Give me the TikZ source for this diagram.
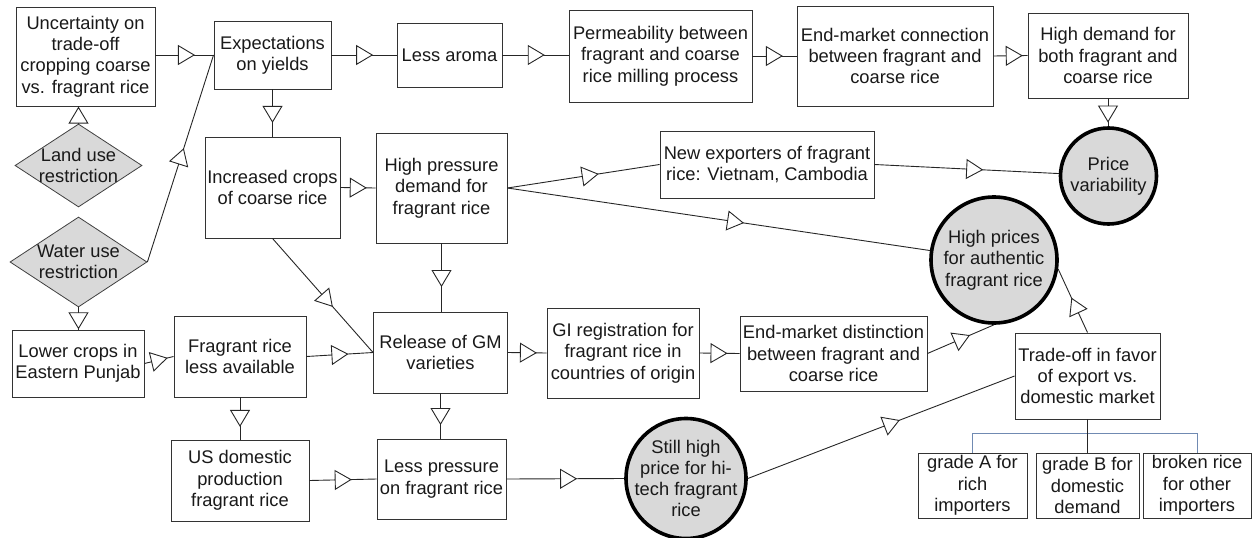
\documentclass[tikz,border=0pt]{standalone}
\usepackage{fontspec}
\setmainfont{Liberation Sans}
\usetikzlibrary{shapes.geometric,arrows.meta,decorations.markings}
\definecolor{treeblue}{RGB}{112,138,178}
\tikzset{
  txt/.style={align=center, inner sep=0pt, font=\fontsize{18.3}{21.3}\selectfont, text=black!90},
  box/.style={txt, rectangle, draw=black!80, line width=0.9pt, fill=white},
  bigcirc/.style={circle, draw=black, line width=3.6pt, fill=black!15, inner sep=0pt},
  diam/.style={diamond, draw=black!75, line width=0.8pt, fill=black!15, inner sep=0pt},
  link/.style={draw=black!85, line width=0.9pt},
  tri/.style={link, postaction={decorate, decoration={markings, mark=at position #1 with {\arrow{Triangle[open, fill=white, length=17pt, width=20pt, line width=0.9pt]}}}}},
  treeline/.style={draw=treeblue, line width=1pt}
}
\begin{document}
\begin{tikzpicture}[x=1pt,y=-1pt]
\useasboundingbox (0,0) rectangle (1253,538);
% boxes
\node[box, minimum width=139pt, minimum height=99pt] (unc) at (85.5,56.5) {Uncertainty on\\trade-off\\cropping coarse\\vs. fragrant rice};
\node[diam, minimum width=127pt, minimum height=83pt] (land) at (78.5,165.5) {};
\node[txt] (landt) at (78.5,165.5) {Land use\\restriction};
\node[diam, minimum width=137pt, minimum height=90pt] (water) at (78.5,262) {};
\node[txt] (watert) at (78.5,262) {Water use\\restriction};
\node[box, minimum width=117pt, minimum height=68pt] (exp) at (272.5,55) {Expectations\\on yields};
\node[box, minimum width=105pt, minimum height=64pt] (aroma) at (449.5,55) {Less aroma};
\node[box, minimum width=183pt, minimum height=92pt] (perm) at (660.5,56) {Permeability between\\fragrant and coarse\\rice milling process};
\node[box, minimum width=196pt, minimum height=100pt] (conn) at (895,56) {End-market connection\\between fragrant and\\coarse rice};
\node[box, minimum width=160pt, minimum height=85pt] (hdboth) at (1108,55.5) {High demand for\\both fragrant and\\coarse rice};
\node[bigcirc, minimum size=96pt] (price) at (1108.5,176) {};
\node[txt] (pricet) at (1108.5,176) {Price\\variability};
\node[box, minimum width=135pt, minimum height=101pt] (inc) at (272.5,187.5) {Increased crops\\of coarse rice};
\node[box, minimum width=131pt, minimum height=110pt] (hpd) at (441.5,188) {High pressure\\demand for\\fragrant rice};
\node[box, minimum width=214pt, minimum height=67pt] (newexp) at (767,164.5) {New exporters of fragrant\\rice: Vietnam, Cambodia};
\node[bigcirc, minimum size=126pt] (hpa) at (994,260) {};
\node[txt] (hpat) at (994,260) {High prices\\for authentic\\fragrant rice};
\node[box, minimum width=132pt, minimum height=67pt] (lower) at (78,363.5) {Lower crops in\\Eastern Punjab};
\node[box, minimum width=132pt, minimum height=81pt] (fla) at (240,356.5) {Fragrant rice\\less available};
\node[box, minimum width=134pt, minimum height=81pt] (gm) at (440.5,352.5) {Release of GM\\varieties};
\node[box, minimum width=152pt, minimum height=90pt] (gi) at (623,353) {GI registration for\\fragrant rice in\\countries of origin};
\node[box, minimum width=187pt, minimum height=75pt] (dist) at (833.5,353.5) {End-market distinction\\between fragrant and\\coarse rice};
\node[box, minimum width=145pt, minimum height=86pt] (trade) at (1087.5,376) {Trade-off in favor\\of export vs.\\domestic market};
\node[box, minimum width=109pt, minimum height=65pt] (gradeA) at (972.5,485.5) {grade A for\\rich\\importers};
\node[box, minimum width=103pt, minimum height=65pt] (gradeB) at (1087.5,485.5) {grade B for\\domestic\\demand};
\node[box, minimum width=108pt, minimum height=65pt] (broken) at (1197,485.5) {broken rice\\for other\\importers};
\node[box, minimum width=138pt, minimum height=81pt] (usd) at (240,480.5) {US domestic\\production\\fragrant rice};
\node[box, minimum width=129pt, minimum height=80pt] (lpf) at (441.5,479) {Less pressure\\on fragrant rice};
\node[bigcirc, minimum size=120pt] (still) at (686,478.5) {};
\node[txt] (stillt) at (686,478.5) {Still high\\price for hi-\\tech fragrant\\rice};
% connectors
\draw[tri=0.68] (unc.east |- exp.west) -- (exp.west);
\draw[tri=0.99] (land.north) -- (land.north |- unc.south);
\draw[tri=0.55] (water.east) -- (exp.west);
\draw[tri=0.64] (exp.east) -- (aroma.west);
\draw[tri=0.64] (aroma.east) -- (aroma.east -| perm.west);
\draw[tri=0.69] (perm.east) -- (conn.west);
\draw[tri=0.86] (conn.east) -- (hdboth.west);
\draw[tri=0.87] (hdboth.south) -- (hdboth.south |- price.north);
\draw[tri=0.71] (exp.south) -- (inc.north);
\draw[tri=0.75] (inc.east) -- (hpd.west);
\draw[tri=0.6] (hpd.east) -- (newexp.west);
\draw[tri=0.59] (newexp.east) -- (price);
\draw[tri=0.56] (hpd.east) -- (hpa);
\draw[tri=0.64] (hpd.south) -- (hpd.south |- gm.north);
\draw[tri=0.6] (inc.south) -- (gm.west);
\draw[tri=0.99] (water.south) -- (water.south |- lower.north);
\draw[tri=0.8] (lower.east) -- (fla.west);
\draw[tri=0.63] (fla.east) -- (gm.west);
\draw[tri=0.7] (fla.south) -- (usd.north);
\draw[tri=0.75] (gm.east) -- (gi.west);
\draw[tri=0.7] (gm.south) -- (gm.south |- lpf.north);
\draw[tri=0.7] (gi.east) -- (dist.west);
\draw[tri=0.64] (dist.east) -- (hpa.south);
\draw[tri=0.55] (trade.north) -- (hpa.-8);
\draw[tri=0.63] (usd.east) -- (lpf.west);
\draw[tri=0.6] (lpf.east) -- (still.west);
\draw[tri=0.57] (still.east) -- (trade.west);
% tree
\coordinate (bar) at (1087.5,433);
\draw[treeline] (gradeA.north) -- (gradeA.north |- bar) -- (broken.north |- bar) -- (broken.north);
\draw[link] (trade.south) -- (gradeB.north);
\end{tikzpicture}
\end{document}
